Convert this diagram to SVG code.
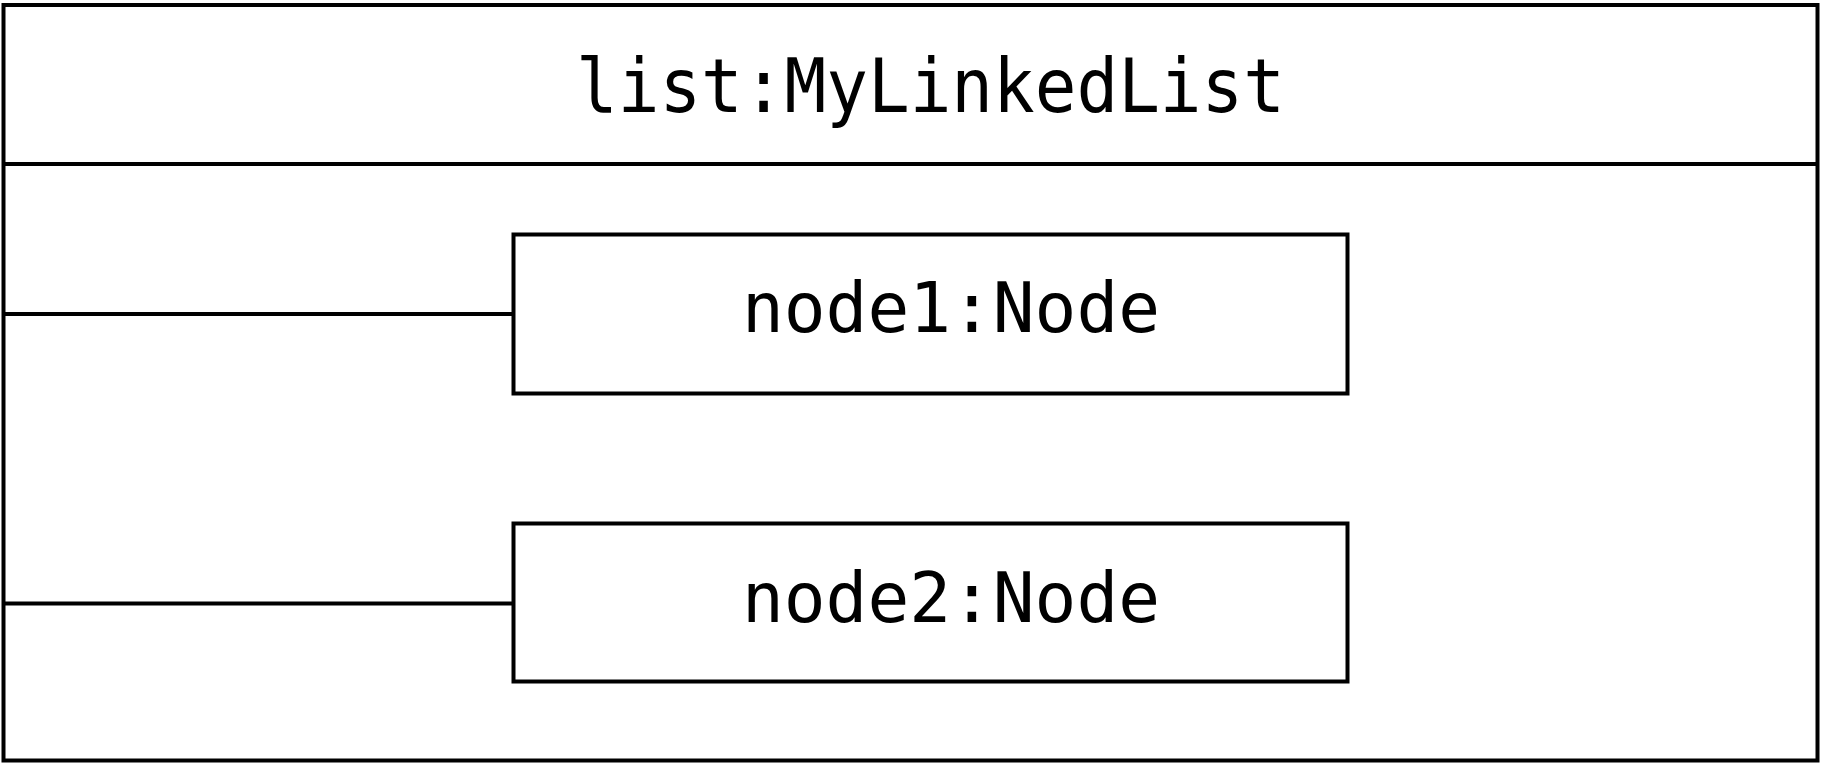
<svg xmlns="http://www.w3.org/2000/svg" width="1826" height="763" viewBox="0 0 1826 763">
  <style>
    .box { fill: #ffffff; stroke: #000000; stroke-width: 4; }
    .wire { stroke: #000000; stroke-width: 4; fill: none; }
    .label { font-family: "DejaVu Sans Mono", "Liberation Mono", monospace; fill: #000000; }
  </style>
  <rect x="0" y="0" width="1826" height="763" fill="#ffffff"/>

  <!-- composite object: list:MyLinkedList -->
  <g id="list">
    <rect class="box" x="3.5" y="5" width="1814" height="755.5"/>
    <line class="wire" x1="3.5" y1="164" x2="1817.5" y2="164"/>
    <text class="label" x="576" y="112" font-size="74" textLength="709" lengthAdjust="spacingAndGlyphs">list:MyLinkedList</text>
  </g>

  <!-- links from the list frame to its parts -->
  <g id="connectors">
    <line class="wire" x1="3.5" y1="314" x2="513.5" y2="314"/>
    <line class="wire" x1="3.5" y1="603.5" x2="513.5" y2="603.5"/>
  </g>

  <g id="node1">
    <rect class="box" x="513.5" y="234.5" width="834" height="159"/>
    <text class="label" x="742" y="332" font-size="70" textLength="418" lengthAdjust="spacingAndGlyphs">node1:Node</text>
  </g>

  <g id="node2">
    <rect class="box" x="513.5" y="523.5" width="834" height="158"/>
    <text class="label" x="742" y="622" font-size="70" textLength="418" lengthAdjust="spacingAndGlyphs">node2:Node</text>
  </g>
</svg>
